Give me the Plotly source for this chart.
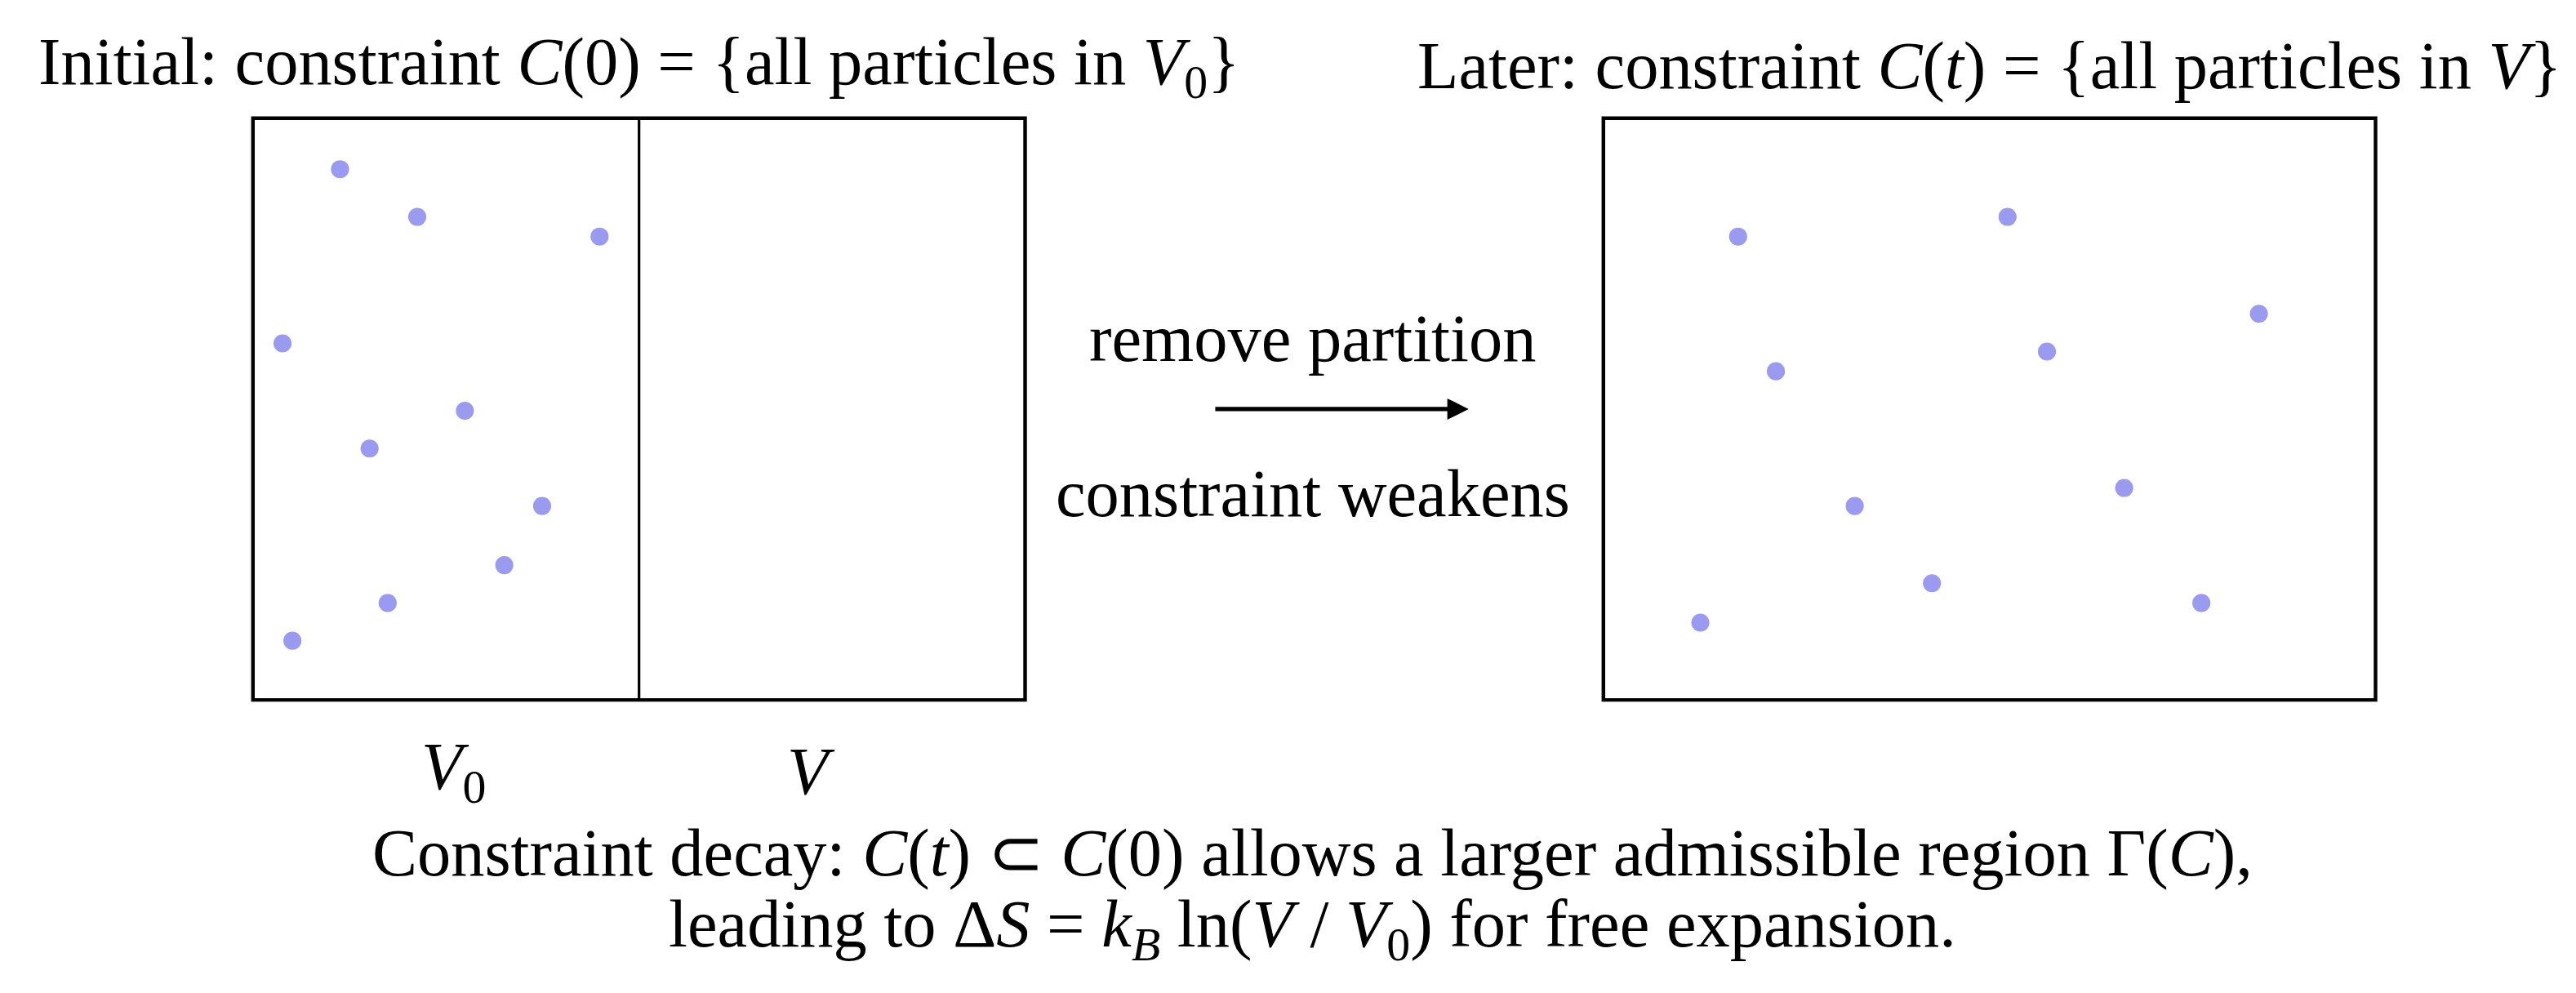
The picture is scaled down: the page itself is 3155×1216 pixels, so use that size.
import plotly.graph_objects as go

W, H = 3155, 1216
S = W / 1568.0  # design units -> pixels

left_x = [203, 250, 361, 168, 279, 221, 326, 303, 232, 174]
left_y = [99, 128, 140, 205, 246, 269, 304, 340, 363, 386]
right_x = [1054, 1218, 1371, 1077, 1242, 1289, 1125, 1172, 1336, 1031]
right_y = [140, 128, 187, 222, 210, 293, 304, 351, 363, 375]

title_left = "Initial: constraint <i>C</i>(0) = {all particles in <i>V</i><sub>0</sub>}"
title_right = "Later: constraint <i>C</i>(<i>t</i>) = {all particles in <i>V</i>}"
arrow_top = "remove partition"
arrow_bottom = "constraint weakens"
label_v0 = "<i>V</i><sub>0</sub>"
label_v = "<i>V</i>"
caption1 = "Constraint decay: <i>C</i>(<i>t</i>) ⊂ <i>C</i>(0) allows a larger admissible region Γ(<i>C</i>),"
caption2 = "leading to Δ<i>S</i> = <i>k</i><sub><i>B</i></sub> ln(<i>V</i> / <i>V</i><sub>0</sub>) for free expansion."

FONT = "Liberation Serif"
fs = 41 * S

fig = go.Figure()
dot = dict(color="#9a9af0", size=11 * S)
fig.add_trace(go.Scatter(x=left_x, y=left_y, mode="markers", marker=dot, hoverinfo="skip"))
fig.add_trace(go.Scatter(x=right_x, y=right_y, mode="markers", marker=dot, hoverinfo="skip"))

lw = 2.2 * S
for x0 in (150, 972):
    fig.add_shape(type="rect", x0=x0, x1=x0 + 470, y0=68, y1=422, line=dict(color="black", width=lw))
fig.add_shape(type="line", x0=385, x1=385, y0=68, y1=422, line=dict(color="black", width=1.6 * S))

fig.add_annotation(x=890, y=245, ax=735, ay=245, xref="x", yref="y", axref="x", ayref="y",
                   showarrow=True, arrowhead=2, arrowsize=1.0, arrowwidth=2.6 * S, arrowcolor="black", text="")

def txt(x, y, t, size=fs):
    fig.add_annotation(x=x, y=y, text=t, showarrow=False, xref="x", yref="y",
                       font=dict(family=FONT, size=size, color="black"))

txt(385, 36, title_left)
txt(1207, 36, title_right)
txt(795, 202, arrow_top)
txt(795, 296, arrow_bottom)
txt(272, 465, label_v0)
txt(490, 465, label_v)
txt(795, 515, caption1)
txt(795, 561, caption2)

fig.update_layout(width=W, height=H, margin=dict(l=0, r=0, t=0, b=0),
                  plot_bgcolor="white", paper_bgcolor="white", showlegend=False,
                  xaxis=dict(range=[0, 1568], visible=False),
                  yaxis=dict(range=[H / S, 0], visible=False))
fig.write_html("out.html")
